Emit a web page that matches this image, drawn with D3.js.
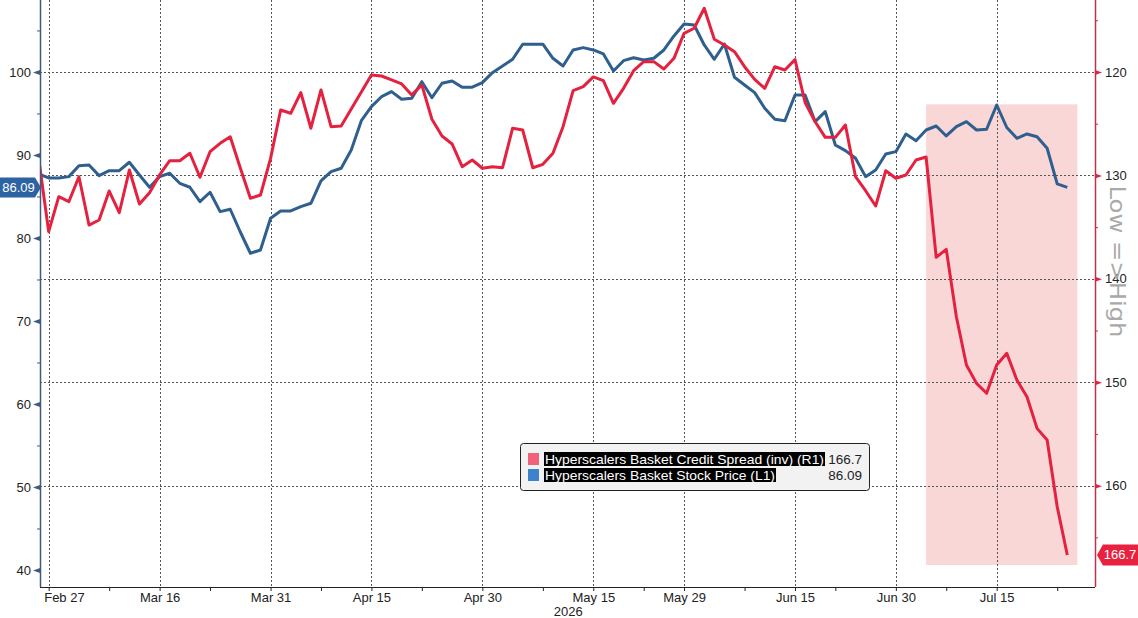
<!DOCTYPE html>
<html lang="en">
<head>
<meta charset="UTF-8">
<title>Hyperscalers basket</title>
<script src="https://cdn.jsdelivr.net/npm/d3@7"></script>
<style>
    body{ margin:0; background:#fff; }
    svg{ display:block; font-family:"Liberation Sans", Arial, sans-serif; }
</style>
</head>
<body>
<script type="text/javascript">

    // trading days, 2026
    const dates = [
        "02-26","02-27",
        "03-02","03-03","03-04","03-05","03-06","03-09","03-10","03-11","03-12","03-13",
        "03-16","03-17","03-18","03-19","03-20","03-23","03-24","03-25","03-26","03-27","03-30","03-31",
        "04-01","04-02","04-06","04-07","04-08","04-09","04-10","04-13","04-14","04-15","04-16","04-17",
        "04-20","04-21","04-22","04-23","04-24","04-27","04-28","04-29","04-30",
        "05-01","05-04","05-05","05-06","05-07","05-08","05-11","05-12","05-13","05-14","05-15",
        "05-18","05-19","05-20","05-21","05-22","05-26","05-27","05-28","05-29",
        "06-01","06-02","06-03","06-04","06-05","06-08","06-09","06-10","06-11","06-12","06-15",
        "06-16","06-17","06-18","06-22","06-23","06-24","06-25","06-26","06-29","06-30",
        "07-01","07-02","07-06","07-07","07-08","07-09","07-10","07-13","07-14","07-15",
        "07-16","07-17","07-20","07-21","07-22","07-23","07-24"
    ];

    // Hyperscalers Basket Stock Price (L1)
    const stockPrice = [
        87.71, 87.23, 87.23, 87.39, 88.71, 88.80, 87.51, 88.11, 88.11, 89.12, 87.59, 86.11,
        87.39, 87.80, 86.59, 86.11, 84.37, 85.51, 83.17, 83.46, 80.72, 78.16, 78.55, 82.37,
        83.25, 83.25, 83.77, 84.18, 86.87, 87.99, 88.40, 90.60, 94.13, 95.82, 97.02, 97.63,
        96.71, 96.83, 98.83, 96.90, 98.64, 98.92, 98.16, 98.16, 98.71,
        99.92, 100.72, 101.53, 103.34, 103.34, 103.34, 101.65, 100.72, 102.65, 102.93, 102.65,
        102.17, 100.12, 101.36, 101.72, 101.45, 101.65, 102.65, 104.34, 105.78,
        105.66, 103.25, 101.53, 103.37, 99.36, 98.43, 97.51, 95.63, 94.30, 94.13, 97.23,
        97.23, 94.01, 95.22, 91.20, 90.52, 89.60, 87.39, 88.19, 90.12, 90.40,
        92.53, 91.72, 93.01, 93.49, 92.29, 93.41, 94.01, 93.01, 93.10, 96.02,
        93.31, 92.01, 92.53, 92.20, 90.81, 86.51, 86.09
    ];

    // Hyperscalers Basket Credit Spread, inverted axis (R1)
    const creditSpread = [
        128.32, 135.44, 132.06, 132.54, 130.13, 134.80, 134.31, 131.51, 133.61, 129.48, 132.77, 131.67,
        129.96, 128.58, 128.58, 127.86, 130.18, 127.71, 126.90, 126.26, 129.28, 132.21, 131.90, 128.35,
        123.68, 123.99, 122.00, 125.44, 121.74, 125.29, 125.22, 123.58, 121.93, 120.29, 120.39, 120.77,
        121.16, 122.22, 121.26, 124.57, 126.19, 126.96, 129.16, 128.51, 129.31,
        129.16, 129.26, 125.44, 125.61, 129.26, 128.93, 127.86, 125.29, 121.81, 121.42, 120.48,
        120.84, 123.03, 121.58, 119.87, 119.00, 119.00, 119.71, 118.68, 116.26,
        115.77, 113.84, 116.84, 117.39, 118.04, 119.49, 120.71, 121.58, 119.49, 119.81, 118.81,
        122.95, 124.81, 126.32, 126.32, 125.13, 130.13, 131.48, 132.96, 129.55, 130.28,
        129.96, 128.51, 128.22, 137.92, 137.15, 143.67, 148.34, 150.11, 151.07, 148.34,
        147.20, 149.79, 151.40, 154.46, 155.59, 162.04, 166.7
    ];

    const majorTicks = ["02-27","03-16","03-31","04-15","04-30","05-15","05-29","06-15","06-30","07-15"];
    const minorTicks = ["03-09","03-23","04-08","04-22","05-08","05-22","06-08","06-22","07-08","07-23"];
    const leftTicks = [40, 50, 60, 70, 80, 90, 100];
    const rightTicks = [120, 130, 140, 150, 160];
    const seriesNames = ["Hyperscalers Basket Credit Spread (inv) (R1)", "Hyperscalers Basket Stock Price (L1)"];

    // highlighted window: from Jul 6 to one step past the last day, left-axis 96.1 .. 40.6
    const shadeFrom = "07-06";
    const shadeLeftTop = 96.1, shadeLeftBottom = 40.6;

    const W = 1138, H = 618;
    const pL = 40, pR = 1095, pT = 0, pB = 587;
    const red = "#e4213f", blue = "#2f5f8e";

    const parse = d3.timeParse("%m-%d-%Y");
    const dayOf = s => dates.indexOf(s);

    const svg = d3.select("body").append("svg")
        .attr("width", W).attr("height", H);

    svg.append("clipPath").attr("id", "plot")
        .append("rect").attr("x", pL).attr("y", pT)
        .attr("width", pR - pL).attr("height", pB - pT);

    let x = d3.scaleLinear()
        .domain([0, dates.length - 1])
        .range([38.6, 1067.3]);

    let yL = d3.scaleLinear()
        .domain([37.95, 108.67])
        .range([pB, pT]);

    let yR = d3.scaleLinear()
        .domain([113.04, 169.8])
        .range([pT, pB]);

    // shading
    svg.append("rect")
        .attr("x", x(dayOf(shadeFrom)))
        .attr("y", yL(shadeLeftTop))
        .attr("width", x(dates.length) - x(dayOf(shadeFrom)))
        .attr("height", yL(shadeLeftBottom) - yL(shadeLeftTop))
        .attr("fill", "#f9d7d7");

    // grid
    let grid = svg.append("g")
        .attr("stroke", "#555")
        .attr("stroke-width", 1)
        .attr("stroke-dasharray", "2,2");
    grid.selectAll(".vg").data(majorTicks).join("line")
        .attr("x1", d => Math.round(x(dayOf(d))) + 0.5)
        .attr("x2", d => Math.round(x(dayOf(d))) + 0.5)
        .attr("y1", pT).attr("y2", pB);
    grid.selectAll(".hg").data(rightTicks).join("line")
        .attr("x1", pL).attr("x2", pR)
        .attr("y1", d => Math.round(yR(d)) + 0.5)
        .attr("y2", d => Math.round(yR(d)) + 0.5);

    // lines
    let lineL = d3.line().x((d, i) => x(i)).y(d => yL(d));
    let lineR = d3.line().x((d, i) => x(i)).y(d => yR(d));
    let plot = svg.append("g").attr("clip-path", "url(#plot)");
    plot.append("path")
        .datum(stockPrice)
        .attr("fill", "none")
        .attr("stroke", blue)
        .attr("stroke-width", 3)
        .attr("stroke-linejoin", "round")
        .attr("d", lineL);
    plot.append("path")
        .datum(creditSpread)
        .attr("fill", "none")
        .attr("stroke", red)
        .attr("stroke-width", 3)
        .attr("stroke-linejoin", "round")
        .attr("d", lineR);

    // x axis
    let xAxisGroup = svg.append("g")
        .attr("transform", `translate(0,${pB})`);
    let xAxis = d3.axisBottom(x)
        .tickValues(majorTicks.map(dayOf).concat(minorTicks.map(dayOf)))
        .tickSize(4)
        .tickSizeOuter(0)
        .tickFormat(i => majorTicks.includes(dates[i]) ? d3.timeFormat("%b %-d")(parse(dates[i] + "-2026")) : "");
    xAxis(xAxisGroup);
    xAxisGroup.select(".domain").attr("d", `M${pL},0.5H${pR}`).attr("stroke", "#222");
    xAxisGroup.selectAll(".tick line").attr("stroke", "#222");
    xAxisGroup.selectAll(".tick text")
        .attr("font-size", 13).attr("fill", "#222")
        .attr("font-family", "Liberation Sans, Arial, sans-serif")
        .attr("y", 6);
    // first label sits right of the left axis
    xAxisGroup.selectAll(".tick text")
        .filter(i => dates[i] === majorTicks[0])
        .attr("text-anchor", "start").attr("dx", -5);
    svg.append("text")
        .attr("x", x(dayOf("05-15")) - 25).attr("y", 616)
        .attr("text-anchor", "middle")
        .attr("font-size", 13).attr("fill", "#222")
        .text("2026");

    // left axis
    let yAxisL = d3.axisLeft(yL)
        .tickValues(d3.range(40, 110, 5))
        .tickSize(3)
        .tickSizeOuter(0)
        .tickFormat(d => leftTicks.includes(d) ? d : "");
    let yAxisLGroup = svg.append("g").attr("transform", `translate(${pL},0)`);
    yAxisL(yAxisLGroup);
    yAxisLGroup.select(".domain").attr("d", `M0.5,${pT}V${pB}`).attr("stroke", "#3d5d80").attr("stroke-width", 1.5);
    yAxisLGroup.selectAll(".tick line").attr("stroke", "#3d5d80");
    yAxisLGroup.selectAll(".tick text")
        .attr("font-size", 13).attr("fill", "#222").attr("x", -9);
    yAxisLGroup.selectAll(".tick")
        .filter(d => leftTicks.includes(d))
        .append("path")
        .attr("d", "M0,-2.5L-7,0L0,2.5Z")
        .attr("fill", "#3d5d80");

    // right axis
    let yAxisR = d3.axisRight(yR)
        .tickValues(d3.range(115, 170, 5))
        .tickSize(3)
        .tickSizeOuter(0)
        .tickFormat(d => rightTicks.includes(d) ? d : "");
    let yAxisRGroup = svg.append("g").attr("transform", `translate(${pR},0)`);
    yAxisR(yAxisRGroup);
    yAxisRGroup.select(".domain").attr("d", `M0.5,${pT}V${pB}`).attr("stroke", "#c0304c").attr("stroke-width", 1.5);
    yAxisRGroup.selectAll(".tick line").attr("stroke", "#c0304c");
    yAxisRGroup.selectAll(".tick text")
        .attr("font-size", 13).attr("fill", "#222").attr("x", 10);
    yAxisRGroup.selectAll(".tick")
        .filter(d => rightTicks.includes(d))
        .append("path")
        .attr("d", "M0,-2.5L7,0L0,2.5Z")
        .attr("fill", "#e4213f");

    svg.append("text")
        .attr("transform", `translate(1110,261.5) rotate(90)`)
        .attr("text-anchor", "middle")
        .attr("font-family", "DejaVu Sans, sans-serif")
        .attr("font-size", 22)
        .attr("textLength", 152)
        .attr("lengthAdjust", "spacingAndGlyphs")
        .attr("fill", "#a9a9a9")
        .text("Low =>High");

    // last value badges
    const lastL = stockPrice[stockPrice.length - 1];
    const lastR = creditSpread[creditSpread.length - 1];
    let yb = yL(lastL);
    svg.append("path")
        .attr("d", `M0,${yb - 10}H35L41,${yb}L35,${yb + 10}H0Z`)
        .attr("fill", "#2e63a3");
    svg.append("text")
        .attr("x", 18.5).attr("y", yb + 4.5)
        .attr("text-anchor", "middle")
        .attr("font-size", 13).attr("fill", "#fff")
        .text(d3.format(".2f")(lastL));
    let yr = yR(lastR);
    svg.append("path")
        .attr("d", `M${W},${yr - 10.5}H1103L1097,${yr}L1103,${yr + 10.5}H${W}Z`)
        .attr("fill", "#e8213f");
    svg.append("text")
        .attr("x", 1120).attr("y", yr + 4.5)
        .attr("text-anchor", "middle")
        .attr("font-size", 13).attr("fill", "#fff")
        .text(d3.format(".1f")(lastR));

    // legend
    let legend = svg.append("g").attr("transform", "translate(520,443)");
    legend.append("rect")
        .attr("x", 0.5).attr("y", 0.5)
        .attr("width", 349).attr("height", 47)
        .attr("rx", 3)
        .attr("fill", "#f2f2f2").attr("stroke", "#222");
    const legendColors = ["#f0627a", "#3c82cf"];
    const legendValues = [d3.format(".1f")(lastR), d3.format(".2f")(lastL)];
    const legendWidths = [281, 232];
    seriesNames.forEach((name, k) => {
        let row = legend.append("g").attr("transform", `translate(0,${10 + k * 16})`);
        row.append("rect")
            .attr("x", 8).attr("y", 0).attr("width", 11).attr("height", 12)
            .attr("fill", legendColors[k]);
        row.append("rect")
            .attr("x", 24).attr("y", -1).attr("width", legendWidths[k]).attr("height", 14)
            .attr("fill", "#000");
        row.append("text")
            .attr("x", 25).attr("y", 11)
            .attr("font-size", 13.5).attr("fill", "#fff")
            .attr("textLength", legendWidths[k] - 2)
            .attr("lengthAdjust", "spacingAndGlyphs")
            .text(name);
        row.append("text")
            .attr("x", 342).attr("y", 11)
            .attr("text-anchor", "end")
            .attr("font-size", 13.5).attr("fill", "#222")
            .text(legendValues[k]);
    });
</script>
</body>
</html>
